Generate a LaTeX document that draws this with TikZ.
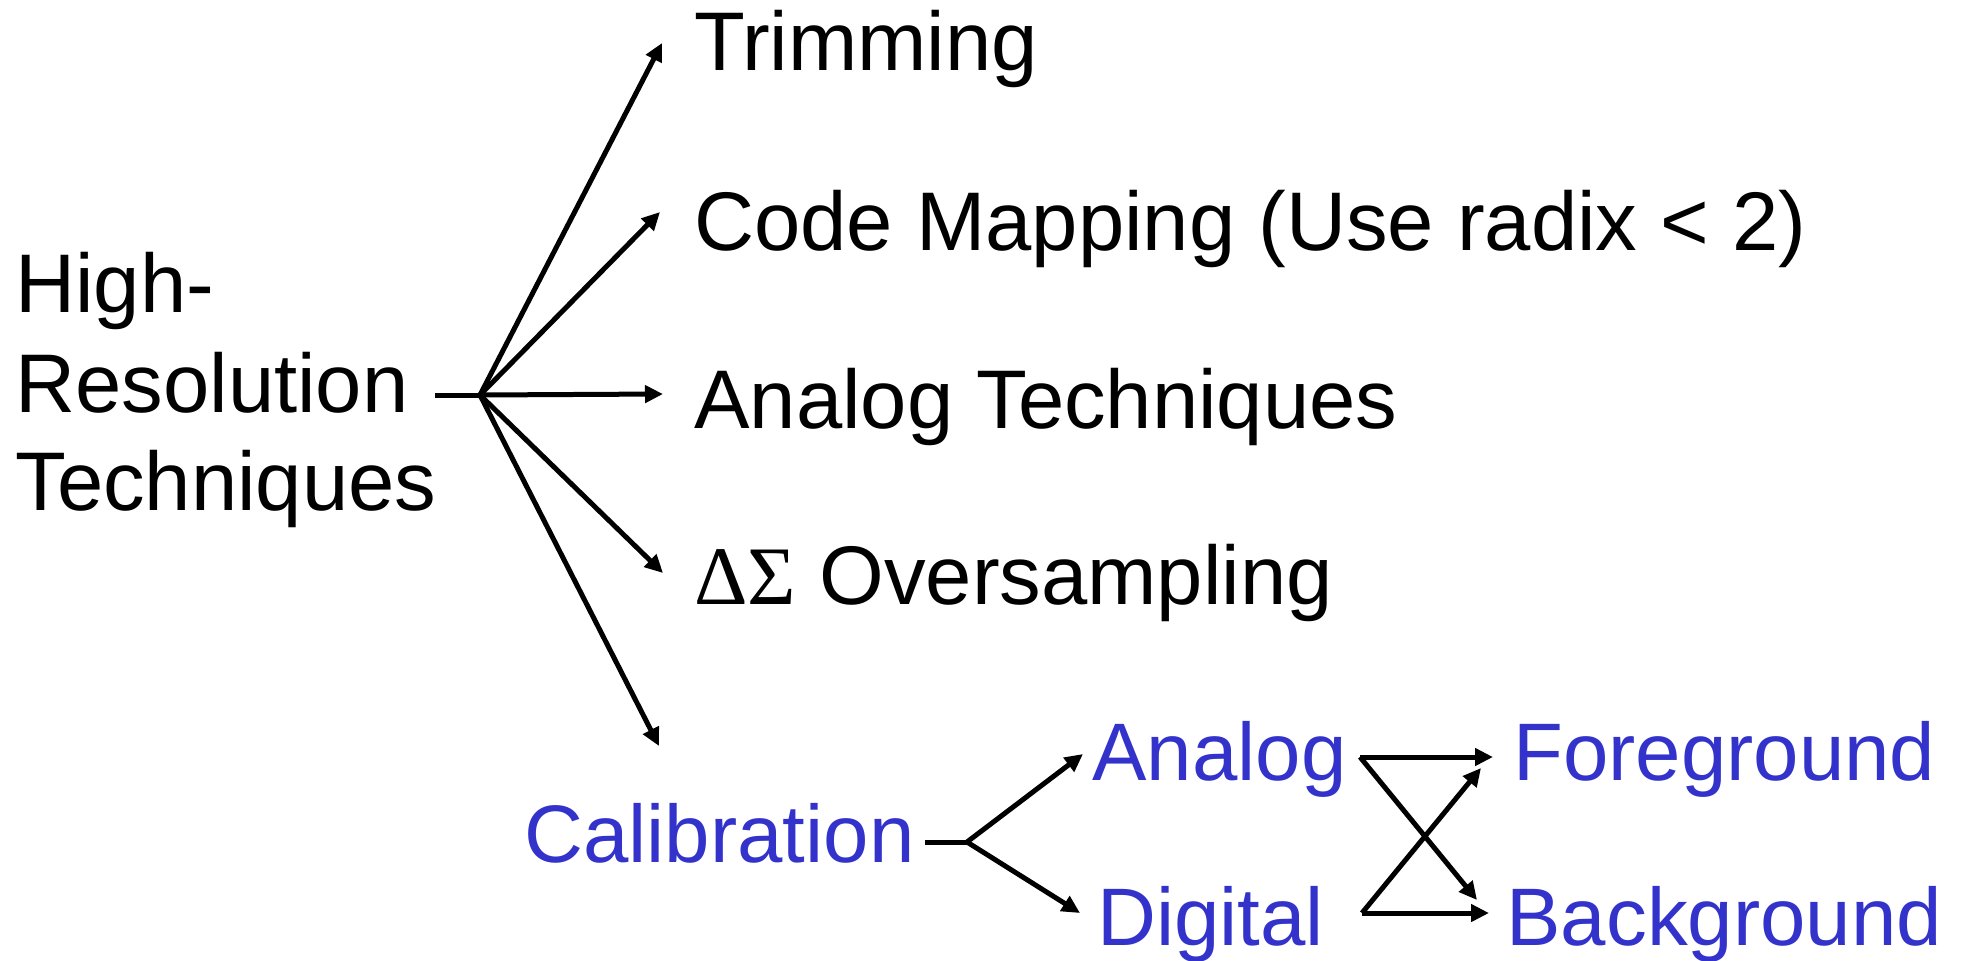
\documentclass[tikz,border=0pt]{standalone}
\usepackage{fontspec}
\setmainfont{Liberation Sans}
\newfontfamily\greekfont{Liberation Serif}
\usetikzlibrary{arrows.meta}
\definecolor{calblue}{RGB}{51,51,204}
\tikzset{
  lbl/.style={anchor=base west, inner sep=0pt, font=\fontsize{41.6}{50}\selectfont},
  bluelbl/.style={anchor=base west, inner sep=0pt, font=\fontsize{40.8}{50}\selectfont, text=calblue},
  conn/.style={line width=2.5pt, line cap=butt, line join=miter},
  arr/.style={conn, -{Triangle[length=9pt,width=8.5pt]}},
}
\begin{document}
\begin{tikzpicture}[x=0.5pt,y=-0.5pt]
\useasboundingbox (0,0) rectangle (1961,960);

% root label
\node[lbl] (hr1) at (15,312) {High-};
\node[lbl] (hr2) at (15,412) {Resolution};
\node[lbl] (hr3) at (15,510) {Techniques};

% branches
\node[lbl] (trim) at (694,70) {Trimming};
\node[lbl] (code) at (694,250) {Code Mapping (Use radix < 2)};
\node[lbl] (atech) at (694,428) {Analog Techniques};
\node[lbl] (dsig) at (694,604) {{\greekfont ΔΣ} Oversampling};

% calibration sub-tree
\node[bluelbl] (cal) at (524,862) {Calibration};
\node[bluelbl] (ana) at (1092,780) {Analog};
\node[bluelbl] (dig) at (1097,945) {Digital};
\node[bluelbl] (fg) at (1513,780) {Foreground};
\node[bluelbl] (bg) at (1506,945) {Background};

% junction points and arrow tips
\coordinate (rootstart) at (435,395);
\coordinate (hub) at (480,395);
\coordinate (tTrim) at (662,43);
\coordinate (tCode) at (660,212);
\coordinate (tAtech) at (663,394);
\coordinate (tDsig) at (663,573);
\coordinate (tCal) at (659,746);

\coordinate (calstart) at (925,842);
\coordinate (calhub) at (967,842);
\coordinate (tAna) at (1083,754);
\coordinate (tDig) at (1080,913);

\coordinate (anaout) at (1360,757);
\coordinate (digout) at (1362,913);
\coordinate (tAF) at (1493,757);
\coordinate (tAB) at (1477,900);
\coordinate (tDB) at (1489,913);
\coordinate (tDF) at (1481,768);

% main fan-out
\draw[conn] (rootstart) -- (hub);
\draw[arr] (hub) -- (tTrim);
\draw[arr] (hub) -- (tCode);
\draw[arr] (hub) -- (tAtech);
\draw[arr] (hub) -- (tDsig);
\draw[arr] (hub) -- (tCal);

% calibration split
\draw[conn] (calstart) -- (calhub);
\draw[arr] (calhub) -- (tAna);
\draw[arr] (calhub) -- (tDig);

% foreground / background crossing
\draw[arr] (anaout) -- (tAF);
\draw[arr] (anaout) -- (tAB);
\draw[arr] (digout) -- (tDB);
\draw[arr] (digout) -- (tDF);
\end{tikzpicture}
\end{document}
